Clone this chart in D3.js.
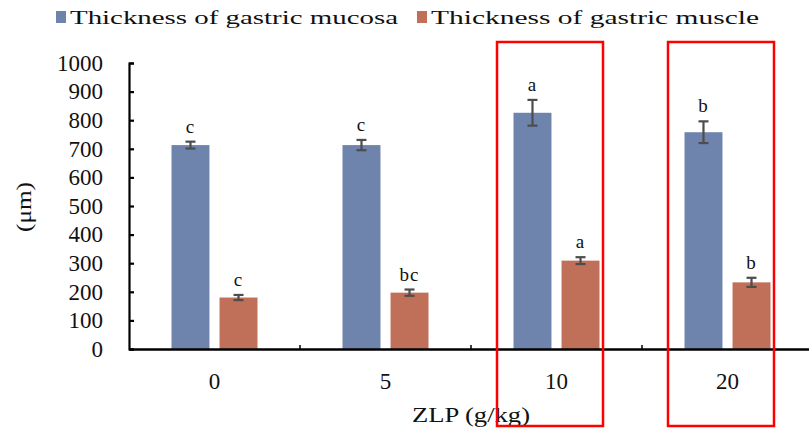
<!DOCTYPE html>
<html>
<head>
<meta charset="utf-8">
<script src="https://cdn.jsdelivr.net/npm/d3@7"></script>
<style>
  body { margin: 0; background: #fff; }
</style>
</head>
<body>
<svg width="809" height="433"></svg>
<script>
// Data
var doses = ['0', '5', '10', '20'];
var mucosa = [713, 713, 826, 758];
var mucosaErr = [12, 18, 45, 38];
var muscle = [180, 197, 309, 233];
var muscleErr = [9, 11, 12, 16];
var mucosaLetters = ['c', 'c', 'a', 'b'];
var muscleLetters = ['c', 'bc', 'a', 'b'];
var seriesNames = ['Thickness of gastric mucosa', 'Thickness of gastric muscle'];
var yTicks = [0, 100, 200, 300, 400, 500, 600, 700, 800, 900, 1000];
var highlighted = ['10', '20'];

var serif = 'Liberation Serif, DejaVu Serif, serif';
var svg = d3.select('svg').attr('font-family', serif);
var colors = ['#6f84ad', '#c06f58'];

var x = d3.scaleBand().domain(doses).range([129, 813]);
var y = d3.scaleLinear().domain([0, 1000]).range([349, 63]);
var sub = d3.scaleBand().domain([0, 1]).range([0, x.bandwidth()]).paddingInner(0.21).paddingOuter(0.885);

var series = [
  {vals: mucosa, err: mucosaErr, letters: mucosaLetters},
  {vals: muscle, err: muscleErr, letters: muscleLetters}
];

// bars
series.forEach(function(s, si) {
  var g = svg.append('g');
  var rows = doses.map(function(d, i) {
    return {dose: d, v: s.vals[i], e: s.err[i], l: s.letters[i]};
  });
  var bw = sub.bandwidth();
  g.selectAll('rect').data(rows).enter().append('rect')
    .attr('x', function(d) { return x(d.dose) + sub(si); })
    .attr('y', function(d) { return y(d.v); })
    .attr('width', bw)
    .attr('height', function(d) { return y(0) - y(d.v); })
    .attr('fill', colors[si]);

  var eb = g.selectAll('.err').data(rows).enter().append('g')
    .attr('stroke', '#4d4d4d').attr('stroke-width', 2.2);
  eb.append('line')
    .attr('x1', function(d) { return x(d.dose) + sub(si) + bw / 2; })
    .attr('x2', function(d) { return x(d.dose) + sub(si) + bw / 2; })
    .attr('y1', function(d) { return y(d.v + d.e); })
    .attr('y2', function(d) { return y(d.v - d.e); });
  [1, -1].forEach(function(sign) {
    eb.append('line')
      .attr('x1', function(d) { return x(d.dose) + sub(si) + bw / 2 - 5; })
      .attr('x2', function(d) { return x(d.dose) + sub(si) + bw / 2 + 5; })
      .attr('y1', function(d) { return y(d.v + sign * d.e); })
      .attr('y2', function(d) { return y(d.v + sign * d.e); });
  });

  g.selectAll('.lbl').data(rows).enter().append('text')
    .attr('x', function(d) { return x(d.dose) + sub(si) + bw / 2; })
    .attr('y', function(d) { return y(d.v + d.e) - 9; })
    .attr('text-anchor', 'middle')
    .attr('font-family', serif)
    .attr('font-size', 19)
    .attr('fill', '#111')
    .style('letter-spacing', '1px')
    .text(function(d) { return d.l; });
});

// y axis
var yAxis = d3.axisLeft(y).tickValues(yTicks).tickSize(-5).tickPadding(26).tickFormat(d3.format('d'));
var yg = svg.append('g').attr('transform', 'translate(129,0)').call(yAxis);
yg.select('.domain').attr('stroke', '#000').attr('stroke-width', 2.2);
yg.selectAll('.tick line').attr('stroke', '#000').attr('stroke-width', 2.2);
yg.selectAll('.tick text').attr('fill', '#111')
  .style('font-family', serif).style('font-size', '23px');

// x axis
var xAxis = d3.axisBottom(x).tickSize(0).tickPadding(24);
var xg = svg.append('g').attr('transform', 'translate(0,349)').call(xAxis);
xg.select('.domain').attr('stroke', '#000').attr('stroke-width', 2.5);
xg.selectAll('.tick text').attr('fill', '#111')
  .style('font-family', serif).style('font-size', '23px');
// small boundary ticks between groups
xg.selectAll('.bnd').data(doses.slice(1)).enter().append('line')
  .attr('x1', function(d) { return x(d); }).attr('x2', function(d) { return x(d); })
  .attr('y1', 0).attr('y2', -4).attr('stroke', '#000').attr('stroke-width', 1.5);

// axis titles
svg.append('text').attr('x', 471).attr('y', 422).attr('text-anchor', 'middle')
  .attr('font-size', 22).attr('fill', '#111')
  .attr('textLength', 118).attr('lengthAdjust', 'spacingAndGlyphs').text('ZLP (g/kg)');
svg.append('text').attr('transform', 'translate(31,207)rotate(-90)').attr('text-anchor', 'middle')
  .attr('font-size', 22).attr('fill', '#111')
  .attr('textLength', 50).attr('lengthAdjust', 'spacingAndGlyphs').text('(μm)');

// legend
var legendX = [56, 417];
seriesNames.forEach(function(name, i) {
  svg.append('rect').attr('x', legendX[i]).attr('y', 11).attr('width', 10).attr('height', 12).attr('fill', colors[i]);
  svg.append('text').attr('x', legendX[i] + 14).attr('y', 24)
    .attr('textLength', 328).attr('lengthAdjust', 'spacingAndGlyphs')
    .attr('font-size', 19).attr('fill', '#111').text(name);
});

// red highlight boxes
svg.selectAll('.hl').data(highlighted).enter().append('rect')
  .attr('x', function(d) { return x(d) + 26; })
  .attr('y', 42)
  .attr('width', 106)
  .attr('height', 384)
  .attr('fill', 'none')
  .attr('stroke', '#ff0000')
  .attr('stroke-width', 2.5);
</script>
</body>
</html>
